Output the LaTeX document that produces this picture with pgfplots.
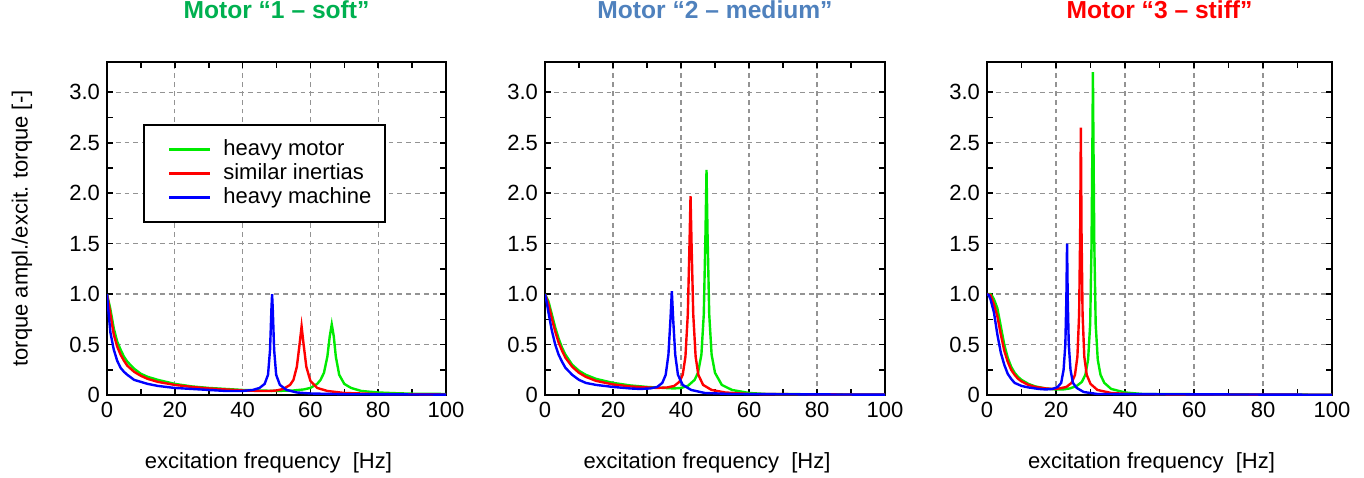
\documentclass[border=0pt]{standalone}
\usepackage{pgfplots}
\pgfplotsset{compat=1.18}
\usepackage{fontspec}
\setmainfont{Liberation Sans}

\definecolor{cmot}{RGB}{0,235,0}
\definecolor{csim}{RGB}{255,0,0}
\definecolor{cmach}{RGB}{0,0,255}
\definecolor{tgreen}{RGB}{0,176,80}
\definecolor{tblue}{RGB}{79,129,189}
\definecolor{tred}{RGB}{255,0,0}

\pgfplotsset{
  panel/.style={
    scale only axis,
    height=166.5pt,
    xmin=0, xmax=100, ymin=0, ymax=3.3,
    xtick={0,20,...,100},
    ytick={0,0.5,...,3.0},
    yticklabels={0,0.5,1.0,1.5,2.0,2.5,3.0},
    minor x tick num=1,
    minor y tick num=1,
    tick align=inside,
    major tick length=3pt,
    minor tick length=3pt,
    tick style={black, line width=0.8pt},
    axis line style={line width=1.2pt},
    grid=major,
    major grid style={gray!85, dash pattern=on 2.4pt off 2pt, line width=0.6pt},
    tick label style={font=\fontsize{11}{13}\selectfont},
    /pgf/number format/assume math mode=true,
    xlabel={excitation frequency~~[Hz]},
    xlabel style={at={(0.5,-0.204)}, anchor=center, xshift=-4pt, font=\fontsize{11}{13}\selectfont},
    title style={at={(0.5,1.12)}, anchor=center, font=\bfseries\fontsize{12.3}{14}\selectfont},
    every axis plot/.append style={line width=1.2pt, no marks},
  },
}

\begin{document}
\begin{tikzpicture}
\path[use as bounding box] (0,0) rectangle (682pt,238.5pt);

% ---- motor 1: soft
\begin{axis}[panel,
  at={(53.5pt,41pt)}, anchor=south west, width=169.5pt,
  title={\textcolor{tgreen}{Motor “1 – soft”}},
  ylabel={torque ampl./excit. torque [-]},
  ylabel style={at={(-0.2507,0.5)}, anchor=center, font=\fontsize{11}{13}\selectfont},
  legend style={at={(0.106,0.814)}, anchor=north west, draw=black, line width=1pt,
    font=\fontsize{11}{13}\selectfont, inner xsep=5pt, inner ysep=5.5pt, row sep=-1.5pt},
  legend cell align=left,
  legend image code/.code={\path (0pt,0pt) (31.5pt,0pt);
    \draw[#1, line width=1.2pt] (7pt,0pt) -- (27.5pt,0pt);},
]
\addplot[cmot] coordinates {
(0,1.0) (1,0.85) (2,0.66) (3,0.53) (4,0.45) (5,0.38) (6,0.33) (8,0.26) (10,0.21)
(12,0.18) (15,0.15) (20,0.11) (25,0.085) (30,0.07) (35,0.06) (40,0.05) (45,0.045)
(50,0.04) (55,0.045) (58,0.055) (60,0.07) (62,0.11) (63,0.15) (64,0.22) (65,0.38)
(65.7,0.58) (66.3,0.70) (66.9,0.58) (67.5,0.38) (68.5,0.2) (70,0.11) (72,0.07)
(75,0.04) (80,0.025) (85,0.018) (90,0.013) (100,0.01)
};
\addlegendentry{heavy motor}
\addplot[csim] coordinates {
(0,1.0) (1,0.8) (2,0.6) (3,0.48) (4,0.4) (5,0.34) (6,0.29) (8,0.23) (10,0.19)
(12,0.16) (15,0.13) (20,0.1) (25,0.08) (30,0.065) (35,0.055) (40,0.045) (45,0.04)
(48,0.04) (50,0.045) (52,0.06) (54,0.1) (55,0.15) (56,0.28) (56.8,0.5) (57.4,0.68)
(58,0.5) (58.8,0.28) (60,0.14) (62,0.07) (65,0.04) (70,0.02) (80,0.01) (100,0.005)
};
\addlegendentry{similar inertias}
\addplot[cmach] coordinates {
(0,1.0) (0.5,0.8) (1,0.62) (2,0.45) (3,0.34) (4,0.27) (5,0.23) (6,0.2) (8,0.15)
(10,0.13) (12,0.11) (15,0.09) (20,0.07) (25,0.06) (30,0.05) (35,0.04) (40,0.04)
(43,0.05) (45,0.07) (46.5,0.11) (47.5,0.2) (48.1,0.45) (48.5,0.85) (48.7,1.0)
(48.9,0.85) (49.3,0.45) (49.9,0.2) (51,0.1) (53,0.05) (56,0.025) (60,0.015)
(70,0.008) (100,0.004)
};
\addlegendentry{heavy machine}
\end{axis}

% ---- motor 2: medium
\begin{axis}[panel,
  at={(272.5pt,41pt)}, anchor=south west, width=170pt,
  title={\textcolor{tblue}{Motor “2 – medium”}},
]
\addplot[cmot] coordinates {
(0,1.0) (1,0.93) (2,0.8) (3,0.67) (4,0.56) (5,0.47) (6,0.4) (8,0.3) (10,0.24)
(12,0.2) (15,0.16) (20,0.12) (25,0.095) (30,0.08) (35,0.07) (38,0.065) (40,0.07)
(42,0.09) (44,0.15) (45,0.22) (46,0.4) (46.7,0.8) (47.2,1.6) (47.5,2.23) (47.8,1.6)
(48.3,0.8) (49,0.4) (50,0.22) (52,0.1) (55,0.05) (60,0.02) (65,0.01) (100,0.003)
};
\addplot[csim] coordinates {
(0,1.0) (1,0.9) (2,0.76) (3,0.63) (4,0.52) (5,0.44) (6,0.37) (8,0.28) (10,0.22)
(12,0.18) (15,0.14) (20,0.105) (25,0.085) (30,0.075) (33,0.07) (36,0.075) (38,0.09)
(39.5,0.13) (40.5,0.2) (41.3,0.38) (42,0.8) (42.5,1.5) (42.8,1.97) (43.1,1.5)
(43.6,0.8) (44.3,0.38) (45.1,0.2) (46.5,0.1) (49,0.05) (53,0.025) (60,0.01) (100,0.003)
};
\addplot[cmach] coordinates {
(0,1.0) (0.5,0.92) (1,0.82) (2,0.64) (3,0.5) (4,0.4) (5,0.33) (6,0.27) (8,0.2)
(10,0.15) (12,0.12) (15,0.1) (20,0.08) (25,0.065) (28,0.06) (31,0.065) (33,0.08)
(34.5,0.12) (35.5,0.2) (36.3,0.4) (36.9,0.75) (37.3,1.03) (37.7,0.75) (38.3,0.4)
(39.1,0.2) (40.5,0.1) (43,0.05) (47,0.02) (55,0.01) (100,0.003)
};
\end{axis}

% ---- motor 3: stiff
\begin{axis}[panel,
  at={(493.5pt,41pt)}, anchor=south west, width=172.5pt,
  title={\textcolor{tred}{Motor “3 – stiff”}},
]
\addplot[cmot] coordinates {
(0,1.0) (1,1.0) (1.5,0.98) (2,0.95) (3,0.86) (4,0.68) (5,0.5) (6,0.37) (7,0.28)
(8,0.22) (9,0.18) (10,0.15) (12,0.11) (14,0.085) (17,0.065) (20,0.055) (22,0.055)
(24,0.065) (26,0.09) (27.5,0.13) (28.5,0.2) (29.3,0.35) (29.9,0.7) (30.3,1.5)
(30.55,2.5) (30.7,3.2) (30.85,2.5) (31.1,1.5) (31.5,0.7) (32.1,0.35) (32.9,0.2)
(34,0.12) (36,0.06) (40,0.025) (45,0.01) (100,0.002)
};
\addplot[csim] coordinates {
(0,1.0) (1,0.99) (2,0.9) (3,0.78) (4,0.6) (5,0.44) (6,0.33) (7,0.25) (8,0.2)
(9,0.16) (10,0.135) (12,0.1) (14,0.08) (17,0.065) (19,0.06) (21,0.065) (23,0.08)
(24.5,0.12) (25.5,0.2) (26.2,0.38) (26.7,0.8) (27,1.6) (27.2,2.65) (27.4,1.6)
(27.7,0.8) (28.2,0.38) (28.9,0.2) (30,0.11) (32,0.05) (36,0.02) (42,0.008) (100,0.002)
};
\addplot[cmach] coordinates {
(0,1.0) (0.5,0.99) (1,0.95) (2,0.82) (3,0.6) (4,0.42) (5,0.3) (6,0.21) (7,0.16)
(8,0.12) (10,0.09) (12,0.075) (15,0.06) (17,0.055) (19,0.06) (20.5,0.08) (21.5,0.12)
(22.2,0.25) (22.7,0.5) (23,0.95) (23.2,1.5) (23.4,0.95) (23.7,0.5) (24.2,0.25)
(24.9,0.12) (26,0.07) (28,0.03) (32,0.01) (100,0.002)
};
\end{axis}
\end{tikzpicture}
\end{document}
